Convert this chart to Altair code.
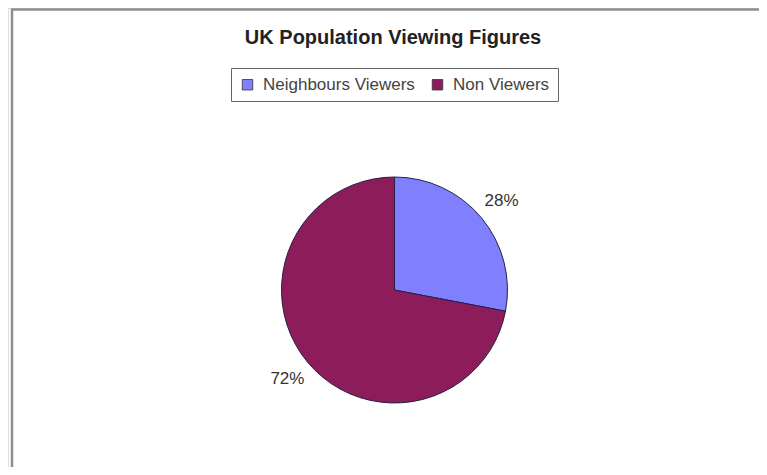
import altair as alt
import pandas as pd

categories = ["Neighbours Viewers", "Non Viewers"]
values = [28, 72]
labels = ["28%", "72%"]
order = [0, 1]
colors = ["#8080ff", "#8c1c5a"]

df = pd.DataFrame({"category": categories, "value": values, "label": labels, "order": order})

W, H = 751, 459
CX, CY = 386.5, 282

border = alt.Chart(pd.DataFrame({"a": [0]})).mark_rect(
    fill=None, stroke="#8f8f8f", strokeWidth=2.5
).encode(
    x=alt.value(4), y=alt.value(1.5), x2=alt.value(W + 20), y2=alt.value(H + 20)
)

base = alt.Chart(df).encode(
    theta=alt.Theta("value:Q", stack=True),
    order=alt.Order("order:Q"),
    x=alt.value(CX),
    y=alt.value(CY),
)

pie = base.mark_arc(outerRadius=113, stroke="#23204a", strokeWidth=1).encode(
    color=alt.Color(
        "category:N",
        scale=alt.Scale(domain=categories, range=colors),
        legend=alt.Legend(
            title=None,
            orient="none",
            legendX=223,
            legendY=60,
            direction="horizontal",
            columns=2,
            symbolType="square",
            symbolSize=110,
            symbolStrokeColor="#333",
            symbolStrokeWidth=0.8,
            labelFont="Liberation Sans",
            labelFontSize=17,
            labelColor="#444",
            labelOffset=7,
            labelLimit=400,
            columnPadding=14,
            padding=8,
            strokeColor="#666",
            fillColor="white",
        ),
    )
)

text = base.mark_text(
    radius=139, font="Liberation Sans", fontSize=17, color="#333"
).encode(text="label:N")

chart = alt.layer(border, pie, text).properties(
    width=W,
    height=H,
    autosize=alt.AutoSizeParams(type="none"),
    padding=0,
    title=alt.Title(
        "UK Population Viewing Figures",
        frame="group",
        anchor="middle",
        orient="top",
        offset=-56,
        baseline="alphabetic",
        dx=9.5,
        font="Liberation Sans",
        fontSize=20,
        fontWeight="bold",
        color="#222",
    ),
).configure_view(stroke=None).configure(background="white")

chart.save("out.html", embed_options={"renderer": "svg", "actions": False})
